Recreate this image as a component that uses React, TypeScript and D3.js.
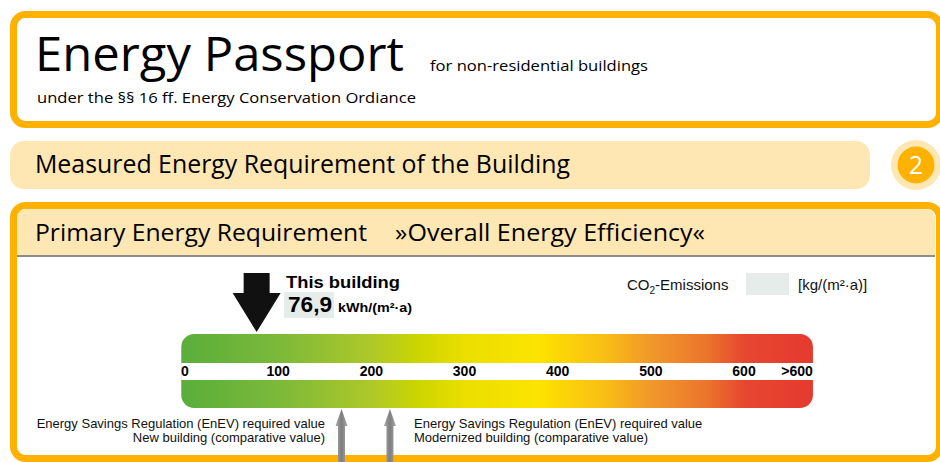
import React from "react";
import * as d3 from "d3";

// ---- data ----
const tickValues = [0, 100, 200, 300, 400, 500, 600, 657];
const tickLabels = ["0", "100", "200", "300", "400", "500", "600", ">600"];
const gradientValues = [-4, 100, 200, 250, 300, 380, 450, 500, 560, 600, 674];
const gradientColors = [
  "#5AAE3B", "#7BB939", "#AEC829", "#CCD500", "#EADF00", "#FDE300",
  "#F9BE16", "#F1982A", "#EC752D", "#E6472F", "#E53A30",
];
const buildingValue = 76.9;
const buildingLabel = "76,9";
const enevNewBuilding = 168;
const enevModernized = 220;

const W = 940;
const H = 462;
const ORANGE = "#FFB100";
const LIGHT = "#FFE7B3";
const MYRIAD = "'Open Sans', 'Noto Sans', sans-serif";
const ARIAL = "'Liberation Sans', Arial, sans-serif";

export default function App() {
  const x = d3.scaleLinear().domain([0, 600]).range([185, 744]);
  const barStart = x(-4);
  const barEnd = x(674);
  const barTop = 334;
  const barBottom = 408;
  const bandTop = 363;
  const bandBottom = 380;

  const tipX = x(buildingValue);
  const tipY = 332;
  const bigArrow = [
    [tipX, tipY],
    [tipX - 24, tipY - 39],
    [tipX - 13, tipY - 39],
    [tipX - 13, tipY - 59],
    [tipX + 13, tipY - 59],
    [tipX + 13, tipY - 39],
    [tipX + 24, tipY - 39],
  ];
  const line = d3.line();

  const upArrow = (v: number) => {
    const cx = x(v);
    const ty = 409;
    return line([
      [cx, ty],
      [cx + 6, ty + 17],
      [cx + 3.5, ty + 17],
      [cx + 3.5, H + 2],
      [cx - 3.5, H + 2],
      [cx - 3.5, ty + 17],
      [cx - 6, ty + 17],
    ] as [number, number][]) as string;
  };

  return (
    <svg
      width={W}
      height={H}
      style={{ position: "absolute", left: 0, top: 0, display: "block" }}
    >
      <defs>
        <linearGradient
          id="scaleGrad"
          gradientUnits="userSpaceOnUse"
          x1={barStart}
          x2={barEnd}
          y1={0}
          y2={0}
        >
          {gradientValues.map((v, i) => (
            <stop
              key={i}
              offset={(x(v) - barStart) / (barEnd - barStart)}
              stopColor={gradientColors[i]}
            />
          ))}
        </linearGradient>
        <linearGradient id="grayArrow" x1="0" x2="1" y1="0" y2="0">
          <stop offset="0" stopColor="#a8a8a8" />
          <stop offset="0.5" stopColor="#7e7e7e" />
          <stop offset="1" stopColor="#a8a8a8" />
        </linearGradient>
        <clipPath id="innerBox">
          <rect x={17} y={209} width={918} height={246} rx={9} />
        </clipPath>
      </defs>
      <rect x={0} y={0} width={W} height={H} fill="#fff" />

      {/* Top box */}
      <rect x={13.5} y={14.5} width={926} height={110} rx={12} fill="#fff" stroke={ORANGE} strokeWidth={7} />
      <text x={35} y={71} fontFamily={MYRIAD} fontSize={47} fill="#000" textLength={369} lengthAdjust="spacingAndGlyphs">
        Energy Passport
      </text>
      <text x={430} y={71} fontFamily={MYRIAD} fontSize={15} fill="#000" textLength={218} lengthAdjust="spacingAndGlyphs">
        for non-residential buildings
      </text>
      <text x={37} y={103} fontFamily={MYRIAD} fontSize={15} fill="#000" textLength={379} lengthAdjust="spacingAndGlyphs">
        under the §§ 16 ff. Energy Conservation Ordiance
      </text>

      {/* Section band */}
      <rect x={10} y={141} width={860} height={48} rx={14} fill={LIGHT} />
      <text x={35} y={173} fontFamily={MYRIAD} fontSize={25} fill="#000" textLength={535} lengthAdjust="spacingAndGlyphs">
        Measured Energy Requirement of the Building
      </text>
      <circle cx={916} cy={165} r={25} fill={LIGHT} />
      <circle cx={916} cy={165} r={18.5} fill={ORANGE} />
      <text x={916} y={174} textAnchor="middle" fontFamily={MYRIAD} fontSize={25} fill="#fff">
        2
      </text>

      {/* Main box */}
      <rect x={13.5} y={205.5} width={926} height={253} rx={12} fill="#fff" stroke={ORANGE} strokeWidth={7} />
      <g clipPath="url(#innerBox)">
        <rect x={17} y={209} width={918} height={46} fill={LIGHT} />
        <line x1={17} x2={935} y1={256} y2={256} stroke="#8c8c8c" strokeWidth={2} />
      </g>
      <text x={35} y={241} fontFamily={MYRIAD} fontSize={23} fill="#000" textLength={332} lengthAdjust="spacingAndGlyphs">
        Primary Energy Requirement
      </text>
      <text x={395} y={241} fontFamily={MYRIAD} fontSize={23} fill="#000" textLength={310} lengthAdjust="spacingAndGlyphs">
        »Overall Energy Efficiency«
      </text>

      {/* This building */}
      <path d={line(bigArrow as [number, number][]) + "Z"} fill="#111" />
      <text x={286} y={288} fontFamily={ARIAL} fontWeight="bold" fontSize={16} fill="#000" textLength={114} lengthAdjust="spacingAndGlyphs">
        This building
      </text>
      <rect x={284} y={292} width={50} height={26} fill="#E6ECEA" />
      <text x={288} y={312} fontFamily={ARIAL} fontWeight="bold" fontSize={22} fill="#000" textLength={44} lengthAdjust="spacingAndGlyphs">
        {buildingLabel}
      </text>
      <text x={338} y={312} fontFamily={ARIAL} fontWeight="bold" fontSize={13} fill="#000" textLength={74} lengthAdjust="spacingAndGlyphs">
        kWh/(m²·a)
      </text>

      {/* CO2 */}
      <text x={627} y={290} fontFamily={ARIAL} fontSize={15} fill="#111">
        CO
        <tspan fontSize={10} dy={4}>2</tspan>
        <tspan dy={-4}>-Emissions</tspan>
      </text>
      <rect x={746} y={273} width={43} height={22} fill="#E6ECEA" />
      <text x={798} y={290} fontFamily={ARIAL} fontSize={15} fill="#111">
        [kg/(m²·a)]
      </text>

      {/* Scale bar */}
      <rect x={barStart} y={barTop} width={barEnd - barStart} height={barBottom - barTop} rx={13} fill="url(#scaleGrad)" />
      <rect x={barStart} y={bandTop} width={barEnd - barStart + 1} height={bandBottom - bandTop} fill="#fff" />
      {tickValues.map((v, i) => (
        <text
          key={i}
          x={x(v)}
          y={376}
          textAnchor="middle"
          fontFamily={ARIAL}
          fontWeight="bold"
          fontSize={14}
          fill="#000"
        >
          {tickLabels[i]}
        </text>
      ))}

      {/* EnEV arrows */}
      <path d={upArrow(enevNewBuilding) + "Z"} fill="url(#grayArrow)" />
      <path d={upArrow(enevModernized) + "Z"} fill="url(#grayArrow)" />
      <text x={325} y={428} textAnchor="end" fontFamily={ARIAL} fontSize={13} fill="#111">
        Energy Savings Regulation (EnEV) required value
      </text>
      <text x={325} y={442} textAnchor="end" fontFamily={ARIAL} fontSize={13} fill="#111">
        New building (comparative value)
      </text>
      <text x={414} y={428} fontFamily={ARIAL} fontSize={13} fill="#111">
        Energy Savings Regulation (EnEV) required value
      </text>
      <text x={414} y={442} fontFamily={ARIAL} fontSize={13} fill="#111">
        Modernized building (comparative value)
      </text>
    </svg>
  );
}
